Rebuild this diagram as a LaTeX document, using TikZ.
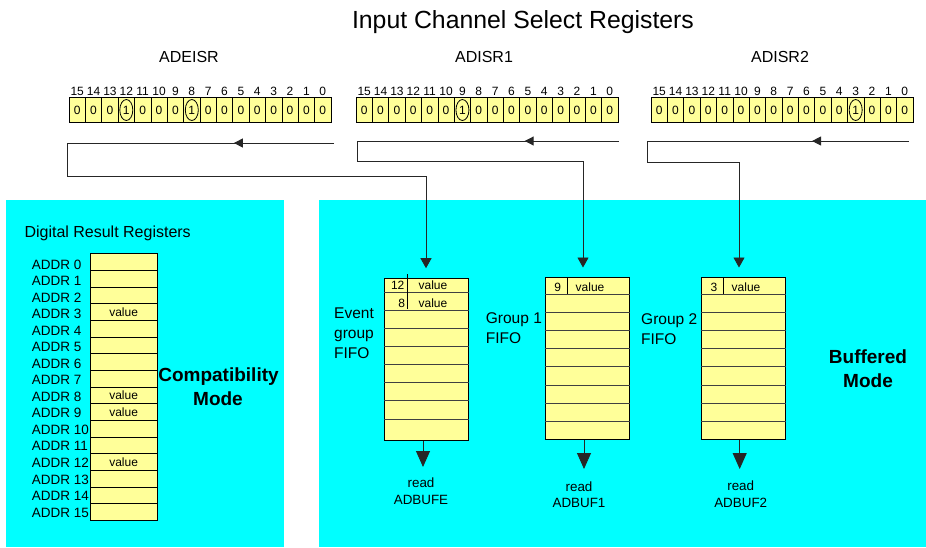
\documentclass[tikz,border=0pt]{standalone}
\usepackage{fontspec}
\setmainfont{Liberation Sans}
\usetikzlibrary{arrows.meta,shapes.geometric,decorations.markings,calc}
\definecolor{panelcyan}{HTML}{00FFFF}
\definecolor{cellyellow}{HTML}{FFFF99}
\newcommand{\pxfont}[1]{\fontsize{#1}{#1}\selectfont}

\begin{document}
\begin{tikzpicture}[x=1pt,y=-1pt,
  panel/.style={fill=panelcyan, draw=none, inner sep=0pt, anchor=north west},
  bitcell/.style={draw=black, fill=cellyellow, line width=0.7pt, minimum width=16.375pt,
    minimum height=24.4pt, inner sep=0pt, font=\pxfont{12}, text height=8.6pt, text depth=0pt},
  setbit/.style={ellipse, draw=black, fill=cellyellow, line width=0.8pt, minimum width=13pt,
    minimum height=21pt, inner sep=0pt, font=\pxfont{12}, text height=8.6pt, text depth=0pt},
  bitnum/.style={inner sep=0pt, font=\pxfont{12}, text height=8.6pt, text depth=0pt},
  regname/.style={inner sep=0pt, font=\pxfont{16}, text height=11.5pt, text depth=0pt},
  ttl/.style={inner sep=0pt, font=\pxfont{24.8}, text height=17.8pt, text depth=0pt},
  hdr/.style={inner sep=0pt, anchor=west, font=\pxfont{16}, text height=11.5pt, text depth=0pt},
  addr/.style={inner sep=0pt, anchor=west, font=\pxfont{13.5}, text height=9.7pt, text depth=0pt},
  addrcell/.style={draw=black, fill=cellyellow, line width=0.7pt, minimum width=66.7pt,
    minimum height=16.66pt, inner sep=0pt, font=\pxfont{12}, text height=8.6pt, text depth=0pt},
  modelbl/.style={inner sep=0pt, font=\bfseries\pxfont{19}, text height=13.6pt, text depth=0pt},
  fifolbl/.style={inner sep=0pt, anchor=west, font=\pxfont{15.5}, text height=11.1pt, text depth=0pt},
  fifo/.style={draw=black, fill=cellyellow, line width=0.8pt, inner sep=0pt, anchor=north west, minimum width=84pt},
  rowline/.style={draw=black!75, line width=0.8pt},
  entry/.style={inner sep=0pt, font=\pxfont{12}, text height=8.6pt, text depth=0pt},
  readlbl/.style={inner sep=0pt, font=\pxfont{13.4}, text height=9.6pt, text depth=0pt},
  wire/.style={draw=black!85, line width=0.9pt},
  midarrow/.style={postaction={decorate}, decoration={markings,
    mark=at position #1 with {\arrow{Triangle[length=9pt,width=9pt]}}}},
  inarrow/.style={-{Triangle[length=10pt,width=11pt]}, shorten >=9.5pt},
  outarrow/.style={-{Triangle[length=16pt,width=14pt]}}
]
\useasboundingbox (0,0) rectangle (926,547);

% background panels
\node[panel, minimum width=278pt, minimum height=347pt] (compat) at (6,200) {};
\node[panel, minimum width=607pt, minimum height=347pt] (buffered) at (319,200) {};

% title and register names
\node[ttl] (title) at (523,20) {Input Channel Select Registers};
\node[regname] (nADEISR) at (189,57) {ADEISR};
\node[regname] (nADISR1) at (484,57) {ADISR1};
\node[regname] (nADISR2) at (780,57) {ADISR2};

% 16-bit select registers
\foreach \r/\x in {ade/69, is1/356, is2/651} {
  \foreach \i in {0,...,15} {
    \pgfmathtruncatemacro\b{15-\i}
    \node[bitcell] (\r-\b) at ({\x+16.375*(\i+0.5)},110) {0};
    \node[bitnum] (\r-n\b) at ({\x+16.375*(\i+0.5)},90.7) {\b};
  }
}
\node[setbit] (ade-s12) at (ade-12) {1};
\node[setbit] (ade-s8) at (ade-8) {1};
\node[setbit] (is1-s9) at (is1-9) {1};
\node[setbit] (is2-s3) at (is2-3) {1};

% digital result registers (compatibility mode)
\node[hdr] (drrtitle) at (24.3,232.2) {Digital Result Registers};
\foreach \i/\t in {0/{},1/{},2/{},3/value,4/{},5/{},6/{},7/{},8/value,9/value,10/{},11/{},12/value,13/{},14/{},15/{}} {
  \node[addrcell] (dr\i) at (123.65,{253.7+16.66*(\i+0.5)}) {\t};
  \node[addr] (al\i) at (31.7,{264.3+16.53*\i}) {ADDR \i};
}
\node[modelbl] (cm1) at (218.5,374.5) {Compatibility};
\node[modelbl] (cm2) at (218,398.5) {Mode};

% FIFOs (buffered mode)
\node[fifo, minimum height=162.3pt] (fifoE) at (384,277.7) {};
\foreach \y in {292,310,328.3,346.7,364.7,382.7,400.7,419}
  \draw[rowline] (fifoE.west |- 0,\y) -- (fifoE.east |- 0,\y);
\draw[draw=black, line width=0.8pt] (407,274) -- (407,309);
\node[entry] (eE12) at (397.7,285.5) {12};
\node[entry] (eEv1) at (433,285.5) {value};
\node[entry] (eE8) at (401.7,303.5) {8};
\node[entry] (eEv2) at (433,303.5) {value};

\node[fifo, minimum height=162pt] (fifo1) at (544.7,277) {};
\node[fifo, minimum height=162pt] (fifo2) at (700.7,277) {};
\foreach \f in {fifo1,fifo2}
  \foreach \y in {294.3,312.3,330.3,348.3,366.7,385,403,421}
    \draw[rowline] (\f.west |- 0,\y) -- (\f.east |- 0,\y);
\draw[draw=black, line width=0.8pt] (567,277) -- (567,294.3);
\draw[draw=black, line width=0.8pt] (723,277) -- (723,294.3);
\node[entry] (e19) at (557.7,287.5) {9};
\node[entry] (e1v) at (590,287.5) {value};
\node[entry] (e23) at (714,287.5) {3};
\node[entry] (e2v) at (746,287.5) {value};

\node[fifolbl] (lE1) at (334,313.3) {Event};
\node[fifolbl] (lE2) at (334,333.3) {group};
\node[fifolbl] (lE3) at (334,353.3) {FIFO};
\node[fifolbl] (l11) at (485.7,318) {Group 1};
\node[fifolbl] (l12) at (485.7,338) {FIFO};
\node[fifolbl] (l21) at (641,319) {Group 2};
\node[fifolbl] (l22) at (641,339) {FIFO};

\node[modelbl] (bm1) at (868,357) {Buffered};
\node[modelbl] (bm2) at (868,380.5) {Mode};

% selection paths from the registers to the FIFOs
\coordinate (w1a) at (334,143);
\coordinate (w1b) at (67,143);
\coordinate (w1c) at (67,176);
\coordinate (w1d) at (426,176);
\draw[wire, midarrow=0.375] (w1a) -- (w1b);
\draw[wire, inarrow] (w1b) -- (w1c) -- (w1d) -- (w1d |- fifoE.north);

\coordinate (w2a) at (619,141);
\coordinate (w2b) at (357,141);
\coordinate (w2c) at (357,161);
\coordinate (w2d) at (583,161);
\draw[wire, midarrow=0.36] (w2a) -- (w2b);
\draw[wire, inarrow] (w2b) -- (w2c) -- (w2d) -- (w2d |- fifo1.north);

\coordinate (w3a) at (909,141);
\coordinate (w3b) at (647,141);
\coordinate (w3c) at (647,162);
\coordinate (w3d) at (739,162);
\draw[wire, midarrow=0.37] (w3a) -- (w3b);
\draw[wire, inarrow] (w3b) -- (w3c) -- (w3d) -- (w3d |- fifo2.north);

% read outputs
\coordinate (oE) at (423,467);
\coordinate (o1) at (584,469);
\coordinate (o2) at (739.7,469);
\draw[wire, outarrow] (oE |- fifoE.south) -- (oE);
\draw[wire, outarrow] (o1 |- fifo1.south) -- (o1);
\draw[wire, outarrow] (o2 |- fifo2.south) -- (o2);

\node[readlbl] (rE1) at (421,483) {read};
\node[readlbl] (rE2) at (421,500) {ADBUFE};
\node[readlbl] (r11) at (579,486.7) {read};
\node[readlbl] (r12) at (579,503) {ADBUF1};
\node[readlbl] (r21) at (740.7,486) {read};
\node[readlbl] (r22) at (740.7,503) {ADBUF2};
\end{tikzpicture}
\end{document}
